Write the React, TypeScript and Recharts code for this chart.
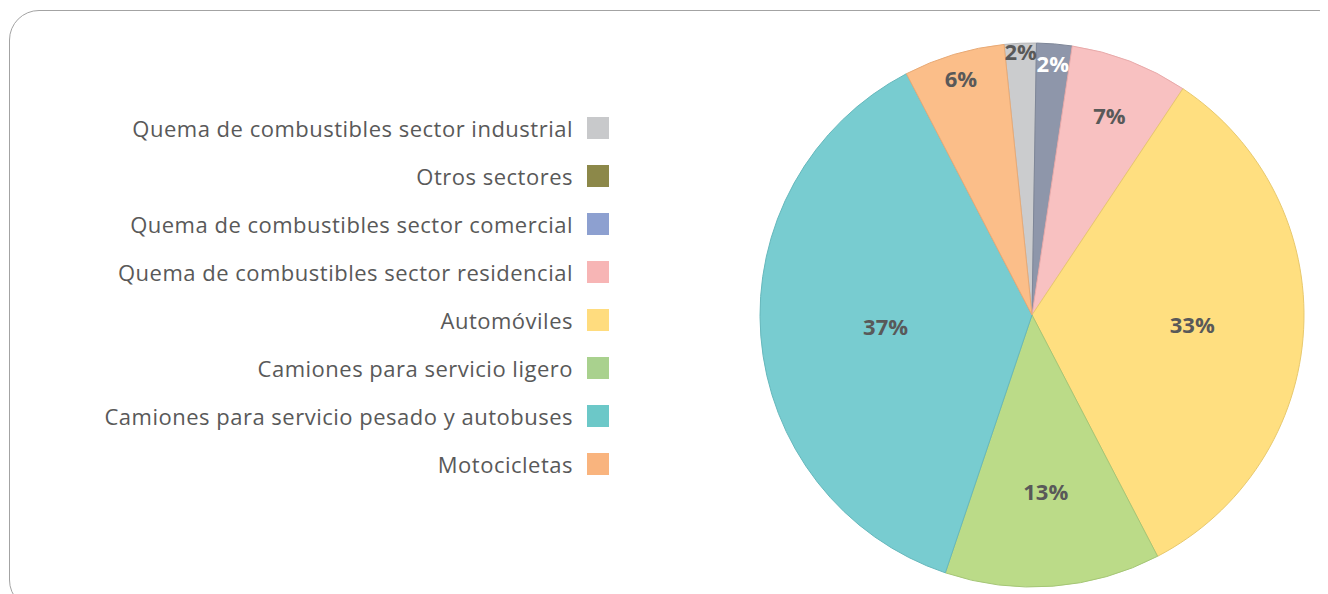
import React from "react";
import { PieChart, Pie, Cell, Legend } from "recharts";

const categories = [
  "Quema de combustibles sector industrial",
  "Otros sectores",
  "Quema de combustibles sector comercial",
  "Quema de combustibles sector residencial",
  "Automóviles",
  "Camiones para servicio ligero",
  "Camiones para servicio pesado y autobuses",
  "Motocicletas",
];
const values = [1.9, 0, 2.1, 7.0, 33.0, 12.8, 37.2, 6.0];
const percentLabels = ["2%", "", "2%", "7%", "33%", "13%", "37%", "6%"];

const legendColors = ["#C8C9CB", "#8C8849", "#8DA0D0", "#F7B5B5", "#FFDC7E", "#A9D18E", "#6CC8C8", "#F9B47E"];
const sliceColors = ["#CBCCCE", "#8C8849", "#8E96AA", "#F8C1C1", "#FFDF80", "#BBDB88", "#78CCD0", "#FBBE89"];
const strokeColors = ["#B5B6B8", "#7A7640", "#7E8698", "#E8AAAA", "#E8C96E", "#A5C676", "#66B8BC", "#E8AA76"];
const labelColors = ["#595959", "#595959", "#FFFFFF", "#595959", "#595959", "#595959", "#595959", "#595959"];
// label distance from the centre, as a fraction of the radius (layout only)
const labelRadiusFraction = [0.97, 0.9, 0.93, 0.79, 0.59, 0.65, 0.54, 0.91];

const data = categories.map((name, i) => ({ name, value: values[i] }));

const RAD = Math.PI / 180;

const renderLabel = (props: any) => {
  const { cx, cy, midAngle, outerRadius, index } = props;
  if (!values[index]) return null;
  const r = outerRadius * labelRadiusFraction[index];
  const x = cx + r * Math.cos(-midAngle * RAD);
  const y = cy + r * Math.sin(-midAngle * RAD);
  return (
    <text
      x={x}
      y={y}
      fill={labelColors[index]}
      textAnchor="middle"
      dominantBaseline="central"
      fontFamily="'Open Sans', sans-serif"
      fontWeight={700}
      fontSize={22}
    >
      {percentLabels[index]}
    </text>
  );
};

const renderLegend = () => (
  <div style={{ position: "absolute", left: 0, top: 0 }}>
    {categories.map((c, i) => (
      <div
        key={c}
        style={{
          position: "absolute",
          top: 108 + i * 48,
          right: -601,
          display: "flex",
          alignItems: "center",
          whiteSpace: "nowrap",
        }}
      >
        <span
          style={{
            fontFamily: "'Open Sans', sans-serif",
            fontSize: 22,
            letterSpacing: 0.5,
            color: "#595959",
            marginRight: 14,
            lineHeight: "24px",
          }}
        >
          {c}
        </span>
        <span style={{ display: "inline-block", width: 22, height: 22, background: legendColors[i] }} />
      </div>
    ))}
  </div>
);

export default function App() {
  return (
    <div style={{ position: "relative", width: 1320, height: 586, overflow: "hidden", background: "#fff" }}>
      <div
        style={{
          position: "absolute",
          left: 1,
          top: 2,
          width: 1340,
          height: 600,
          border: "1.5px solid #A3A3A3",
          borderRadius: 30,
          boxSizing: "border-box",
        }}
      />
      <div style={{ position: "absolute", left: 0, top: 0 }}>
        <PieChart width={1320} height={586} margin={{ top: 0, right: 0, bottom: 0, left: 0 }}>
          <Legend
            content={renderLegend}
            wrapperStyle={{ left: 0, top: 0, width: 0, height: 0 }}
          />
          <Pie
            data={data}
            dataKey="value"
            nameKey="name"
            cx={1024}
            cy={307}
            outerRadius={272}
            startAngle={95.9}
            endAngle={-264.1}
            isAnimationActive={false}
            label={renderLabel}
            labelLine={false}
            legendType="square"
          >
            {data.map((d, i) => (
              <Cell key={d.name} fill={sliceColors[i]} stroke={strokeColors[i]} strokeWidth={1} />
            ))}
          </Pie>
        </PieChart>
      </div>
    </div>
  );
}
